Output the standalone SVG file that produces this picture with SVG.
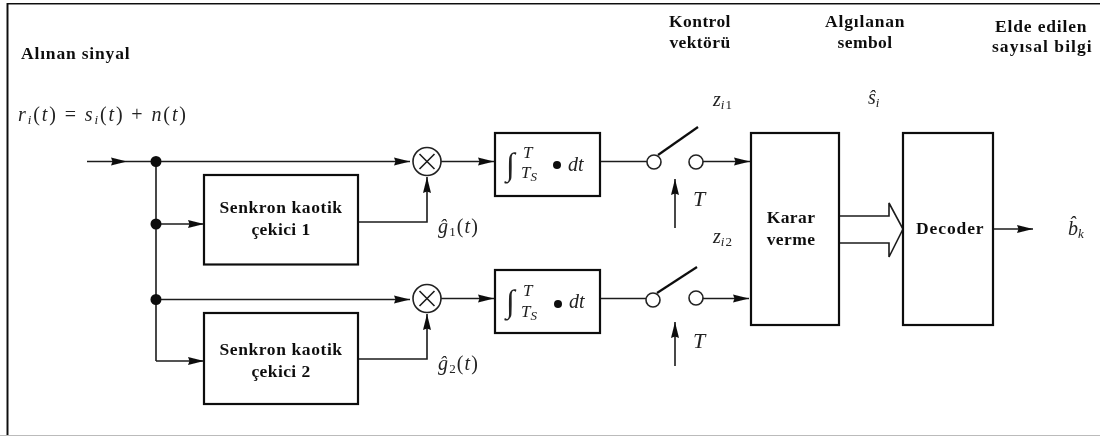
<svg xmlns="http://www.w3.org/2000/svg" width="1100" height="436" viewBox="0 0 1100 436">
<style>
.b{font-family:"Liberation Serif",serif;font-weight:700;font-size:17.5px;fill:#111;letter-spacing:.4px}
.m{font-family:"Liberation Serif",serif;font-style:italic;font-size:20px;fill:#222}
.r{font-family:"Liberation Serif",serif;font-style:normal;font-size:20px;fill:#222}
.s{font-size:13px}
.f{font-size:17px}
.c{text-anchor:middle}
.box{fill:#fff;stroke:#111;stroke-width:2.2}
.ln{fill:none;stroke:#1c1c1c;stroke-width:1.6}
.arm{fill:none;stroke:#111;stroke-width:2.2}
.o{fill:#fff;stroke:#222;stroke-width:1.6}
</style>
<defs>
<marker id="a" markerUnits="userSpaceOnUse" markerWidth="16" markerHeight="9" refX="16" refY="4.500" orient="auto"><path d="M0 0.500L16 4.500L0 8.500L1.500 4.500Z" fill="#111"/></marker>
<filter id="soft" x="0" y="0" width="100%" height="100%"><feGaussianBlur stdDeviation="0.4"/></filter>
</defs>
<rect width="1100" height="436" fill="#fff"/>
<g filter="url(#soft)">
<g id="frame">
<path d="M7.500 436V3.500H1100" fill="none" stroke="#111" stroke-width="2"/>
<path d="M0 435.500H1100" stroke="#bbb" stroke-width="1"/>
</g>
<g id="connectors">
<path class="ln" marker-end="url(#a)" d="M87 161.500H127"/>
<path class="ln" marker-end="url(#a)" d="M127 161.500H410"/>
<path class="ln" d="M156 161V361"/>
<path class="ln" marker-end="url(#a)" d="M156 224H204"/>
<path class="ln" marker-end="url(#a)" d="M156 299.500H410"/>
<path class="ln" marker-end="url(#a)" d="M156 361H204"/>
<path class="ln" marker-end="url(#a)" d="M358 222H427V177"/>
<path class="ln" marker-end="url(#a)" d="M358 359H427V314"/>
<path class="ln" marker-end="url(#a)" d="M441 161.500H494"/>
<path class="ln" marker-end="url(#a)" d="M441 298.500H494"/>
<path class="ln" d="M600 161.500H647"/>
<path class="ln" d="M599 298.500H646"/>
<path class="arm" d="M658 155L698 127"/>
<path class="arm" d="M657 293L697 267"/>
<path class="ln" marker-end="url(#a)" d="M703 161.500H750"/>
<path class="ln" marker-end="url(#a)" d="M703 298.500H749"/>
<path class="ln" marker-end="url(#a)" d="M675 228V179"/>
<path class="ln" marker-end="url(#a)" d="M675 366V322"/>
<path class="ln" d="M839 216H889V203L903 229L889 257V243H839"/>
<path class="ln" marker-end="url(#a)" d="M993 229H1033"/>
</g>
<g id="dots">
<circle cx="156" cy="161.500" r="5.500" fill="#111"/>
<circle cx="156" cy="224" r="5.500" fill="#111"/>
<circle cx="156" cy="299.500" r="5.500" fill="#111"/>
</g>
<g id="mult1"><circle class="o" cx="427" cy="161.500" r="14"/><path class="ln" d="M419.500 154L434.500 169M434.500 154L419.500 169"/></g>
<g id="mult2"><circle class="o" cx="427" cy="298.500" r="14"/><path class="ln" d="M419.500 291L434.500 306M434.500 291L419.500 306"/></g>
<g id="sync1"><rect class="box" x="204" y="175" width="154" height="89.500"/><text class="b c" x="281" y="213" textLength="123">Senkron kaotik</text><text class="b c" x="281" y="235">çekici 1</text></g>
<g id="sync2"><rect class="box" x="204" y="313" width="154" height="91"/><text class="b c" x="281" y="355" textLength="123">Senkron kaotik</text><text class="b c" x="281" y="377">çekici 2</text></g>
<g id="int1"><rect class="box" x="495" y="133" width="105" height="63"/>
<text class="r" x="506" y="175" style="font-size:32px">∫</text><text class="m f" x="523" y="158">T</text><text class="m f" x="521" y="178">T<tspan class="s" dy="3">S</tspan></text>
<circle cx="557" cy="165" r="4" fill="#111"/><text class="m" x="568" y="171">dt</text></g>
<g id="int2"><rect class="box" x="495" y="270" width="105" height="63"/>
<text class="r" x="506" y="312" style="font-size:32px">∫</text><text class="m f" x="523" y="296">T</text><text class="m f" x="521" y="317">T<tspan class="s" dy="3">S</tspan></text>
<circle cx="558" cy="304" r="4" fill="#111"/><text class="m" x="569" y="308">dt</text></g>
<g id="sw1"><circle class="o" cx="654" cy="162" r="7"/><circle class="o" cx="696" cy="162" r="7"/></g>
<g id="sw2"><circle class="o" cx="653" cy="300" r="7"/><circle class="o" cx="696" cy="298" r="7"/></g>
<g id="decision"><rect class="box" x="751" y="133" width="88" height="192"/><text class="b c" x="791" y="223">Karar</text><text class="b c" x="791" y="245">verme</text></g>
<g id="decoder"><rect class="box" x="903" y="133" width="90" height="192"/><text class="b c" x="950" y="234" textLength="68">Decoder</text></g>
<g id="labels">
<text class="b" x="21" y="59" textLength="109">Alınan sinyal</text>
<text class="b c" x="700" y="27">Kontrol</text><text class="b c" x="700" y="48">vektörü</text>
<text class="b c" x="865" y="27" textLength="80">Algılanan</text><text class="b c" x="865" y="48">sembol</text>
<text class="b c" x="1041" y="32" textLength="92">Elde edilen</text><text class="b c" x="1042" y="52" textLength="100">sayısal bilgi</text>
<text class="m" x="18" y="121" textLength="168">r<tspan class="s" dy="3">i</tspan><tspan class="r" dy="-3">(</tspan>t<tspan class="r">) = </tspan>s<tspan class="s" dy="3">i</tspan><tspan class="r" dy="-3">(</tspan>t<tspan class="r">) + </tspan>n<tspan class="r">(</tspan>t<tspan class="r">)</tspan></text>
<text class="m" x="438" y="233" textLength="40">ĝ<tspan class="r s" dy="3">1</tspan><tspan class="r" dy="-3">(</tspan>t<tspan class="r">)</tspan></text>
<text class="m" x="438" y="370" textLength="40">ĝ<tspan class="r s" dy="3">2</tspan><tspan class="r" dy="-3">(</tspan>t<tspan class="r">)</tspan></text>
<text class="m" x="713" y="106">z<tspan class="s" dy="3">i</tspan><tspan class="r s" dx="1">1</tspan></text>
<text class="m" x="713" y="243">z<tspan class="s" dy="3">i</tspan><tspan class="r s" dx="1">2</tspan></text>
<text class="m" x="693" y="206" style="font-size:22px">T</text>
<text class="m" x="693" y="348" style="font-size:22px">T</text>
<text class="m" x="868" y="104">ŝ<tspan class="s" dy="3">i</tspan></text>
<text class="m" x="1068" y="235">b̂<tspan class="s" dy="3">k</tspan></text>
</g>
</g>
</svg>
